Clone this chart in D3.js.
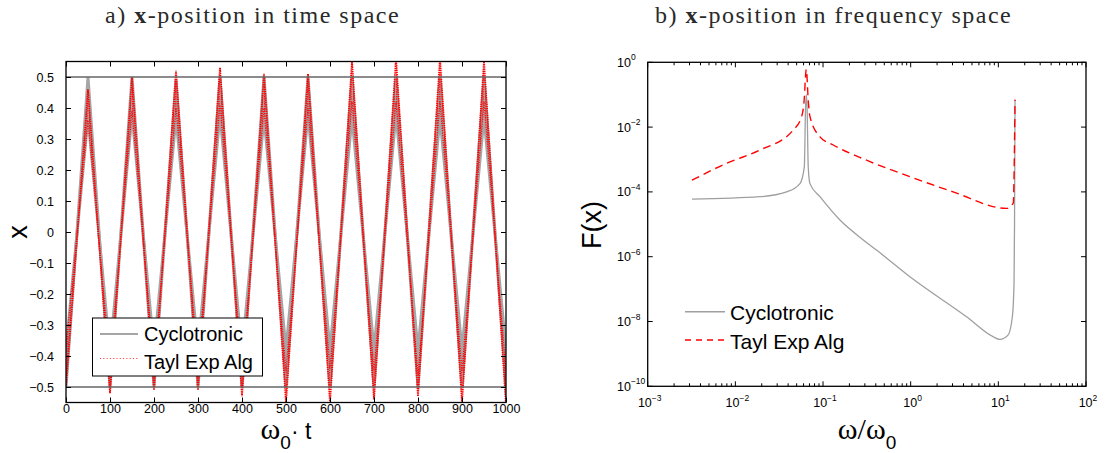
<!DOCTYPE html>
<html>
<head>
<meta charset="utf-8">
<script src="https://cdn.jsdelivr.net/npm/d3@7"></script>
<style>
  body { margin: 0; background: #fff; }
  svg text { font-family: "Liberation Sans", Arial, sans-serif; fill: #000; }
  .serif { font-family: "Liberation Serif", "Times New Roman", serif; }
  .title { font-family: "Liberation Serif", "Times New Roman", serif; fill: #2a2a2a; letter-spacing: 1.5px; }
</style>
</head>
<body>
<div id="chart"></div>
<script>
// ---- a) x-position in time space: values read at every extremum of the oscillation
var extT      = [0, 50, 100, 150, 200, 250, 300, 350, 400, 450, 500, 550, 600, 650, 700, 750, 800, 850, 900, 950, 1000];
var grayOuter = [-0.50, 0.50, -0.50, 0.50, -0.50, 0.49, -0.50, 0.50, -0.50, 0.50, -0.50, 0.50, -0.50, 0.50, -0.50, 0.50, -0.50, 0.50, -0.50, 0.50, -0.50];
var grayInner = [-0.38, 0.37, -0.39, 0.38, -0.38, 0.37, -0.38, 0.38, -0.39, 0.37, -0.38, 0.38, -0.38, 0.37, -0.38, 0.38, -0.38, 0.37, -0.38, 0.37, -0.38];
var redOuter  = [-0.50, 0.46, -0.52, 0.50, -0.51, 0.52, -0.51, 0.53, -0.53, 0.51, -0.55, 0.51, -0.55, 0.55, -0.54, 0.56, -0.53, 0.56, -0.55, 0.55, -0.56];
var redInner  = [-0.37, 0.36, -0.42, 0.39, -0.43, 0.40, -0.42, 0.41, -0.44, 0.40, -0.45, 0.40, -0.44, 0.42, -0.45, 0.42, -0.46, 0.42, -0.45, 0.42, -0.45];
var refLines  = [0.5, -0.5];
var xTicksA   = [0, 100, 200, 300, 400, 500, 600, 700, 800, 900, 1000];
var yTicksA   = [-0.5, -0.4, -0.3, -0.2, -0.1, 0, 0.1, 0.2, 0.3, 0.4, 0.5];

// ---- b) x-position in frequency space
var freqCyc = [0.0032, 0.019, 0.0385, 0.0546, 0.0612, 0.0632, 0.0645, 0.0658, 0.0678, 0.071, 0.0923, 0.156, 0.288, 0.408, 0.98, 4.34, 8.7, 10.4, 12.9, 14.45, 15.1, 15.3, 15.5];
var specCyc = [6.0e-5, 7.1e-5, 1.0e-4, 1.8e-4, 6.0e-4, 4.0e-2, 0.10, 4.0e-2, 6.0e-4, 1.8e-4, 7.1e-5, 1.35e-5, 3.3e-6, 1.6e-6, 2.4e-7, 1.4e-8, 3.4e-9, 2.8e-9, 3.8e-9, 1.4e-8, 1.5e-7, 1.0e-5, 0.07];
var freqTay = [0.0032, 0.0079, 0.019, 0.0457, 0.057, 0.0605, 0.0645, 0.068, 0.071, 0.0923, 0.131, 0.314, 0.98, 3.05, 12.4, 14.8, 15.5];
var specTay = [2.3e-4, 7.6e-4, 1.95e-3, 8.1e-3, 2.1e-2, 5.4e-2, 0.6, 6.0e-2, 2.1e-2, 5.0e-3, 2.8e-3, 9.5e-4, 2.95e-4, 1.0e-4, 3.1e-5, 4.5e-5, 0.07];
var xTicksB = [1e-3, 1e-2, 1e-1, 1, 10, 100];
var xExpB   = ["\u22123", "\u22122", "\u22121", "0", "1", "2"];
var yTicksB = [1, 1e-2, 1e-4, 1e-6, 1e-8, 1e-10];
var yExpB   = ["0", "\u22122", "\u22124", "\u22126", "\u22128", "\u221210"];

var legendNames = ["Cyclotronic", "Tayl Exp Alg"];

var chart_width = 1110, chart_height = 453;
var grayCol = "#a6a6a6";

var svg = d3.select('#chart')
    .append('svg')
    .attr('width', chart_width)
    .attr('height', chart_height);

var defs = svg.append('defs');
defs.append('pattern')
    .attr('id', 'rdots')
    .attr('patternUnits', 'userSpaceOnUse')
    .attr('width', 2.4).attr('height', 2.4)
  .append('rect')
    .attr('width', 1.3).attr('height', 1.3)
    .attr('fill', 'red');

function styleAxis(g) {
  g.select('.domain').remove();
  g.selectAll('line').attr('stroke', '#000').attr('stroke-width', 1);
  g.selectAll('text').attr('font-size', 12.5).attr('font-family', '"Liberation Sans", Arial, sans-serif');
}

// ================= panel a =================
var A = { l: 66, r: 506, t: 61.5, b: 402.5 };
var x_a = d3.scaleLinear().domain([0, 1000]).range([A.l, A.r]);
var y_a = d3.scaleLinear().domain([-0.55, 0.55]).range([A.b, A.t]);

defs.append('clipPath').attr('id', 'clipA')
  .append('rect').attr('x', A.l).attr('y', A.t).attr('width', A.r - A.l).attr('height', A.b - A.t);

var pts = extT.map(function(t, i) {
  return { t: t, go: grayOuter[i], gi: grayInner[i], ro: redOuter[i], ri: redInner[i] };
});

var gA = svg.append('g').attr('clip-path', 'url(#clipA)');

// gray band (Cyclotronic)
gA.append('path')
  .attr('d', d3.area().x(function(d){ return x_a(d.t); })
      .y0(function(d){ return y_a(d.gi); }).y1(function(d){ return y_a(d.go); })(pts))
  .attr('fill', grayCol);
['go', 'gi'].forEach(function(k) {
  gA.append('path')
    .attr('d', d3.line().x(function(d){ return x_a(d.t); }).y(function(d){ return y_a(d[k]); })(pts))
    .attr('fill', 'none').attr('stroke', grayCol).attr('stroke-width', 3);
});

// red dotted (Tayl Exp Alg)
gA.append('path')
  .attr('d', d3.area().x(function(d){ return x_a(d.t); })
      .y0(function(d){ return y_a(d.ri); }).y1(function(d){ return y_a(d.ro); })(pts))
  .attr('fill', 'url(#rdots)');
gA.append('path')
  .attr('d', d3.line().x(function(d){ return x_a(d.t); }).y(function(d){ return y_a(d.ro); })(pts))
  .attr('fill', 'none').attr('stroke', 'red').attr('stroke-width', 1.8).attr('stroke-dasharray', '1.4,0.8');
gA.append('path')
  .attr('d', d3.line().x(function(d){ return x_a(d.t); }).y(function(d){ return y_a(d.ri); })(pts))
  .attr('fill', 'none').attr('stroke', 'red').attr('stroke-width', 1.3).attr('stroke-dasharray', '1,1.4');

// reference lines at +-0.5
gA.selectAll('line.ref')
  .data(refLines)
  .enter()
  .append('line')
  .attr('class', 'ref')
  .attr('x1', A.l).attr('x2', A.r)
  .attr('y1', function(d){ return y_a(d); })
  .attr('y2', function(d){ return y_a(d); })
  .attr('stroke', '#666').attr('stroke-width', 1.6);

// axes a
svg.append('g')
  .attr('transform', 'translate(0,' + A.b + ')')
  .call(d3.axisBottom(x_a).tickValues(xTicksA).tickSizeInner(-5).tickSizeOuter(0).tickPadding(2).tickFormat(d3.format('d')))
  .call(styleAxis);
svg.append('g')
  .attr('transform', 'translate(0,' + A.t + ')')
  .call(d3.axisTop(x_a).tickValues(xTicksA).tickSizeInner(-5).tickSizeOuter(0).tickFormat(''))
  .call(styleAxis);
svg.append('g')
  .attr('transform', 'translate(' + A.l + ',0)')
  .call(d3.axisLeft(y_a).tickValues(yTicksA).tickSizeInner(-5).tickSizeOuter(0).tickPadding(12).tickFormat(d3.format('~g')))
  .call(styleAxis);
svg.append('g')
  .attr('transform', 'translate(' + A.r + ',0)')
  .call(d3.axisRight(y_a).tickValues(yTicksA).tickSizeInner(-5).tickSizeOuter(0).tickFormat(''))
  .call(styleAxis);
svg.append('rect')
  .attr('x', A.l).attr('y', A.t).attr('width', A.r - A.l).attr('height', A.b - A.t)
  .attr('fill', 'none').attr('stroke', '#000').attr('stroke-width', 1.3);

// legend a
var legA = svg.append('g');
legA.append('rect').attr('x', 92.5).attr('y', 318).attr('width', 170).attr('height', 58)
  .attr('fill', '#fff').attr('stroke', '#000').attr('stroke-width', 1);
legA.append('line').attr('x1', 100).attr('x2', 138).attr('y1', 334).attr('y2', 334)
  .attr('stroke', grayCol).attr('stroke-width', 2);
legA.append('line').attr('x1', 100).attr('x2', 138).attr('y1', 358.5).attr('y2', 358.5)
  .attr('stroke', '#ff3030').attr('stroke-width', 1.1).attr('stroke-dasharray', '1,2.3');
legA.selectAll('text').data(legendNames).enter().append('text')
  .attr('x', 144).attr('y', function(d, i){ return i ? 368.5 : 341; })
  .attr('font-size', 20).text(function(d){ return d; });

// labels a
svg.append('text').attr('transform', 'translate(27,232) rotate(-90)')
  .attr('text-anchor', 'middle').attr('font-size', 27).text('x');
var xl = svg.append('text').attr('x', 286).attr('y', 439).attr('text-anchor', 'middle');
xl.append('tspan').attr('class', 'serif').attr('font-size', 30).text('\u03c9');
xl.append('tspan').attr('font-size', 19).attr('dy', 10).text('0');
xl.append('tspan').attr('font-size', 23).attr('dy', -10).text('\u00b7 t');

// title a
var ta = svg.append('text').attr('class', 'title').attr('x', 105).attr('y', 23).attr('font-size', 24);
ta.append('tspan').text('a) ');
ta.append('tspan').attr('font-weight', 'bold').text('x');
ta.append('tspan').text('-position in time space');

// ================= panel b =================
var B = { l: 647.7, r: 1086, t: 62.3, b: 386.3 };
var x_b = d3.scaleLog().domain([1e-3, 1e2]).range([B.l, B.r]);
var y_b = d3.scaleLog().domain([1e-10, 1]).range([B.b, B.t]);

defs.append('clipPath').attr('id', 'clipB')
  .append('rect').attr('x', B.l).attr('y', B.t).attr('width', B.r - B.l).attr('height', B.b - B.t);
var gB = svg.append('g').attr('clip-path', 'url(#clipB)');

var cyc = freqCyc.map(function(f, i){ return [f, specCyc[i]]; });
var tay = freqTay.map(function(f, i){ return [f, specTay[i]]; });
var lineB = d3.line().curve(d3.curveMonotoneX)
  .x(function(d){ return x_b(d[0]); }).y(function(d){ return y_b(d[1]); });

gB.append('path').attr('d', lineB(cyc))
  .attr('fill', 'none').attr('stroke', '#9f9f9f').attr('stroke-width', 1.3);
gB.append('path').attr('d', lineB(tay))
  .attr('fill', 'none').attr('stroke', 'red').attr('stroke-width', 1.4).attr('stroke-dasharray', '8,5');

// ticks b
var minorX = x_b.ticks().filter(function(v){ return xTicksB.indexOf(v) < 0; });
[B.b, B.t].forEach(function(yy) {
  var dir = yy === B.b ? -1 : 1;
  svg.append('g').selectAll('line').data(xTicksB).enter().append('line')
    .attr('x1', function(d){ return x_b(d); }).attr('x2', function(d){ return x_b(d); })
    .attr('y1', yy).attr('y2', yy + dir * 5).attr('stroke', '#000');
  svg.append('g').selectAll('line').data(minorX).enter().append('line')
    .attr('x1', function(d){ return x_b(d); }).attr('x2', function(d){ return x_b(d); })
    .attr('y1', yy).attr('y2', yy + dir * 3).attr('stroke', '#000');
});
[B.l, B.r].forEach(function(xx) {
  var dir = xx === B.l ? 1 : -1;
  svg.append('g').selectAll('line').data(yTicksB).enter().append('line')
    .attr('y1', function(d){ return y_b(d); }).attr('y2', function(d){ return y_b(d); })
    .attr('x1', xx).attr('x2', xx + dir * 5).attr('stroke', '#000');
});
svg.append('rect')
  .attr('x', B.l).attr('y', B.t).attr('width', B.r - B.l).attr('height', B.b - B.t)
  .attr('fill', 'none').attr('stroke', '#000').attr('stroke-width', 1.3);

// tick labels b
svg.append('g').selectAll('text').data(xTicksB).enter().append('text')
  .attr('x', function(d){ return x_b(d) + 2; }).attr('y', 407)
  .attr('text-anchor', 'middle').attr('font-size', 12.5)
  .each(function(d, i) {
    var t = d3.select(this);
    t.append('tspan').text('10');
    t.append('tspan').attr('font-size', 8.5).attr('dy', -6.5).text(xExpB[i]);
  });
svg.append('g').selectAll('text').data(yTicksB).enter().append('text')
  .attr('x', 617).attr('y', function(d){ return y_b(d) + 4.5; })
  .attr('font-size', 12.5)
  .each(function(d, i) {
    var t = d3.select(this);
    t.append('tspan').text('10');
    t.append('tspan').attr('font-size', 8.5).attr('dy', -6.5).text(yExpB[i]);
  });

// legend b
var legB = svg.append('g');
legB.append('line').attr('x1', 685).attr('x2', 725).attr('y1', 311.7).attr('y2', 311.7)
  .attr('stroke', '#9f9f9f').attr('stroke-width', 1.5);
legB.append('line').attr('x1', 685).attr('x2', 725).attr('y1', 340).attr('y2', 340)
  .attr('stroke', 'red').attr('stroke-width', 1.5).attr('stroke-dasharray', '6,5');
legB.selectAll('text').data(legendNames).enter().append('text')
  .attr('x', 730).attr('y', function(d, i){ return i ? 348.5 : 320; })
  .attr('font-size', 21).text(function(d){ return d; });

// labels b
svg.append('text').attr('transform', 'translate(601,225) rotate(-90)')
  .attr('text-anchor', 'middle').attr('font-size', 27).text('F(x)');
var wl = svg.append('text').attr('x', 867).attr('y', 439).attr('text-anchor', 'middle');
wl.append('tspan').attr('class', 'serif').attr('font-size', 30).text('\u03c9/\u03c9');
wl.append('tspan').attr('font-size', 19).attr('dy', 10).text('0');

// title b
var tb = svg.append('text').attr('class', 'title').attr('x', 655).attr('y', 23).attr('font-size', 24);
tb.append('tspan').text('b) ');
tb.append('tspan').attr('font-weight', 'bold').text('x');
tb.append('tspan').text('-position in frequency space');
</script>
</body>
</html>
